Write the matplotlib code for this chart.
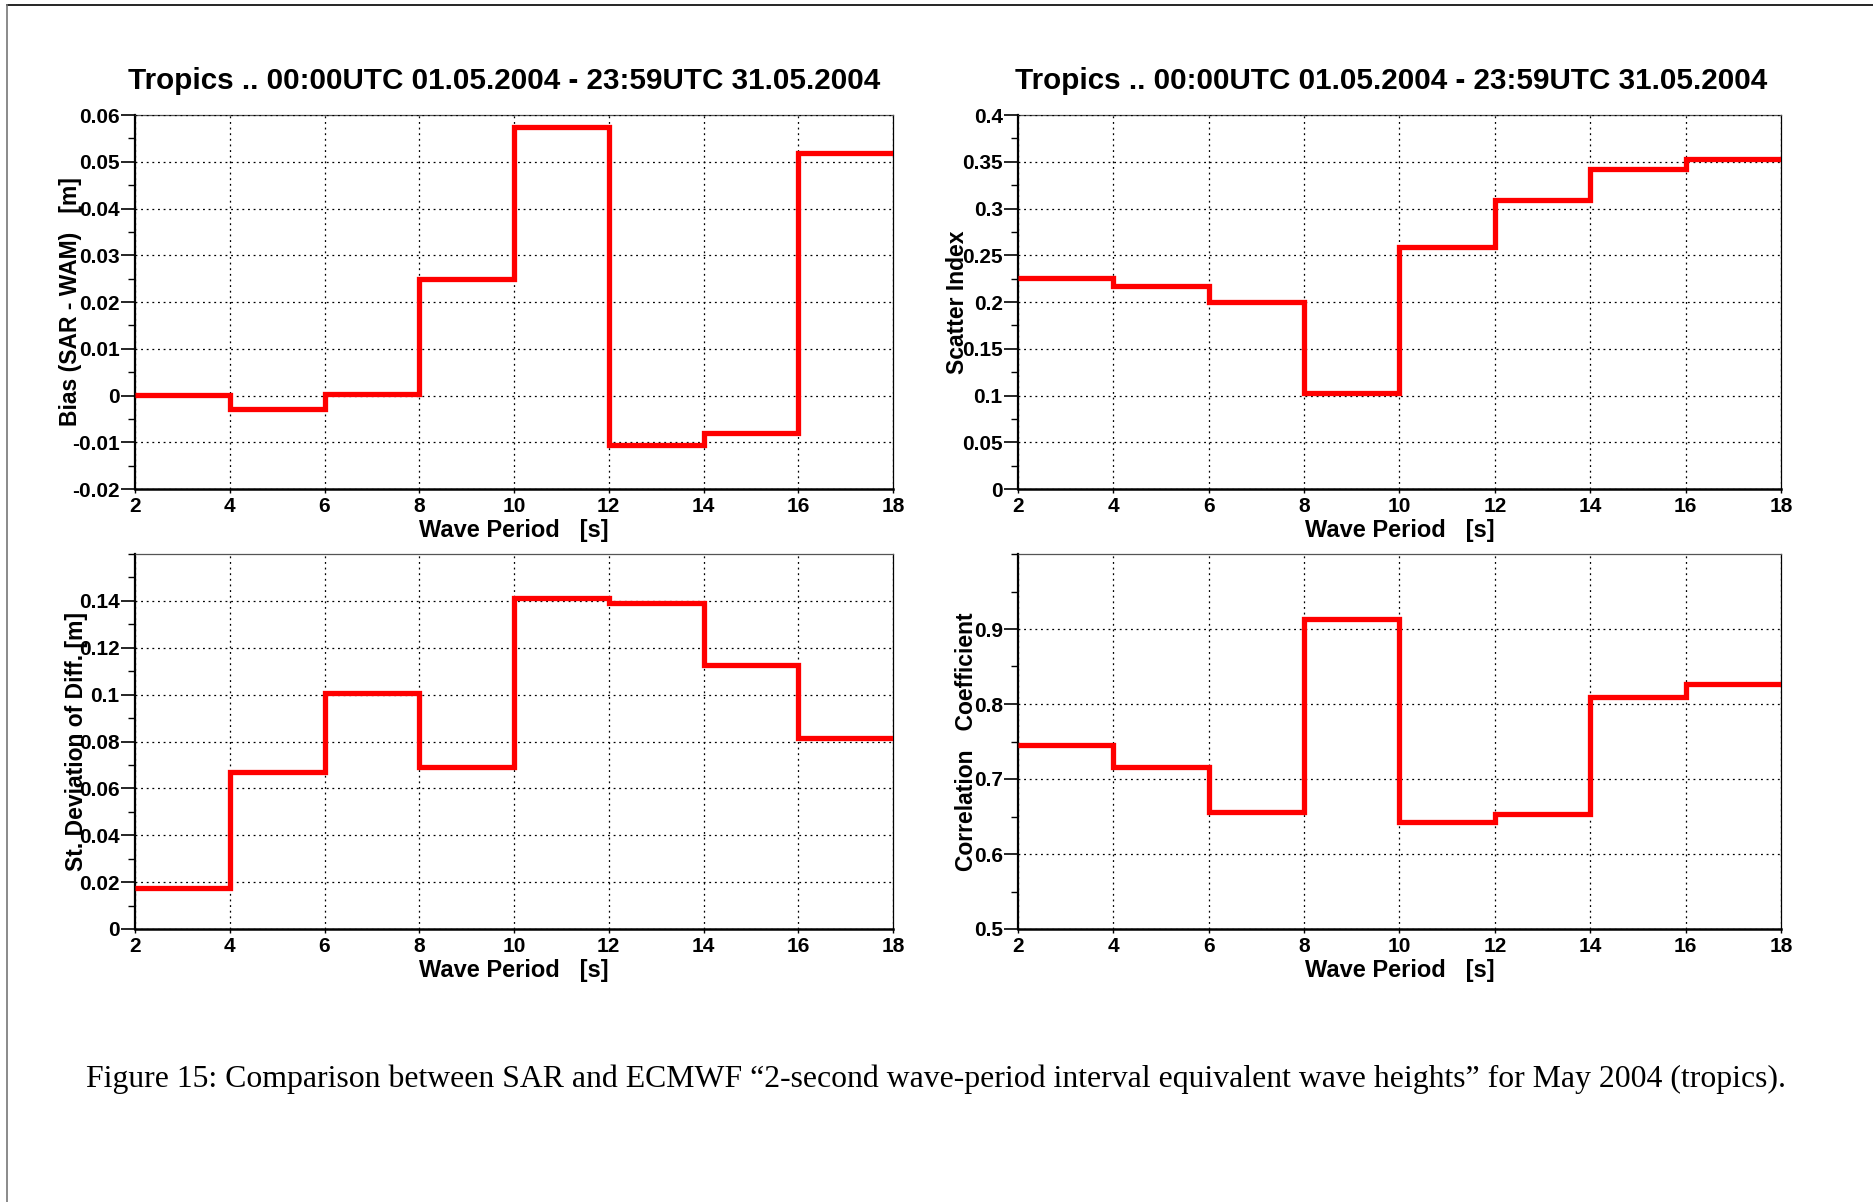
import numpy as np
import matplotlib
matplotlib.use("Agg")
import matplotlib.pyplot as plt
from matplotlib.lines import Line2D
from matplotlib.ticker import MultipleLocator

# wave period bin edges [s]
period_edges = [2, 4, 6, 8, 10, 12, 14, 16, 18]

# values per 2-second bin
bias = [0.0002, -0.0028, 0.0004, 0.0249, 0.0574, -0.0105, -0.0080, 0.0518]
scatter_index = [0.226, 0.217, 0.200, 0.103, 0.259, 0.309, 0.342, 0.353]
std_diff = [0.0177, 0.0671, 0.1008, 0.0691, 0.1414, 0.1390, 0.1127, 0.0813]
correlation = [0.746, 0.7155, 0.656, 0.9135, 0.643, 0.654, 0.809, 0.827]

title = "Tropics .. 00:00UTC 01.05.2004 - 23:59UTC 31.05.2004"
xlabel = "Wave Period   [s]"
caption = ("Figure 15: Comparison between SAR and ECMWF \u201c2-second wave-period "
           "interval equivalent wave heights\u201d for May 2004 (tropics).")

plt.rcParams['font.family'] = ['Liberation Sans', 'DejaVu Sans']
plt.rcParams['font.weight'] = 'bold'

W, H = 1873, 1202
fig = plt.figure(figsize=(W / 100, H / 100), dpi=100)


def px_axes(x0, y0, x1, y1):
    # pixel box (top-left origin) -> figure fraction
    return fig.add_axes([x0 / W, 1 - y1 / H, (x1 - x0) / W, (y1 - y0) / H])


def fmt(v, pos):
    if abs(v) < 1e-9:
        return '0'
    return ('%.3f' % v).rstrip('0').rstrip('.')


def style(ax, values, ylim, major, minor, ylabel, ylab_x, top_label=True):
    ax.stairs(values, period_edges, baseline=None, color='#ff0000', lw=3.8,
              zorder=3)
    ax.set_xlim(2, 18)
    ax.set_ylim(*ylim)
    ax.xaxis.set_major_locator(MultipleLocator(2))
    yt = np.arange(ylim[0], ylim[1] + major / 2, major)
    if not top_label:
        yt = yt[:-1]
    ax.set_yticks(yt)
    ax.yaxis.set_minor_locator(MultipleLocator(minor))
    ax.yaxis.set_major_formatter(plt.FuncFormatter(fmt))
    ax.grid(True, which='major', color='k', linestyle=(0, (1.5, 3)), lw=0.9)
    ax.set_axisbelow(False)
    ax.tick_params(axis='y', which='major', length=10, width=1.2, labelsize=15, pad=1)
    ax.tick_params(axis='y', which='minor', length=5, width=1.0)
    ax.tick_params(axis='x', which='major', length=3, width=1.0, labelsize=15, pad=3)
    for lab in ax.get_xticklabels() + ax.get_yticklabels():
        lab.set_fontweight('bold')
    ax.spines['left'].set_linewidth(1.6)
    ax.spines['bottom'].set_linewidth(1.8)
    ax.spines['right'].set_linewidth(0.9)
    ax.spines['top'].set_linewidth(0.9)
    ax.spines['top'].set_color('#555555')
    ax.set_xlabel(xlabel, fontsize=17, fontweight='bold', va='center')
    ax.xaxis.set_label_coords(0.5, -41 / 374)
    ax.set_ylabel(ylabel, fontsize=16.5, fontweight='bold', va='center')
    ax.yaxis.set_label_coords(ylab_x, 0.5)


ax1 = px_axes(135, 115, 893, 489)
style(ax1, bias, (-0.02, 0.06), 0.01, 0.005, "Bias (SAR - WAM)   [m]", -64 / 758)
ax1.set_title(title, fontsize=21.3, fontweight='bold', pad=19, x=0.487)

ax2 = px_axes(1018, 115, 1781, 489)
style(ax2, scatter_index, (0.0, 0.4), 0.05, 0.025, "Scatter Index", -60 / 763)
ax2.set_title(title, fontsize=21.3, fontweight='bold', pad=19, x=0.4895)

ax3 = px_axes(135, 554, 893, 929)
style(ax3, std_diff, (0.0, 0.16), 0.02, 0.01, "St. Deviation of Diff. [m]", -58 / 758,
      top_label=False)

ax4 = px_axes(1018, 554, 1781, 929)
style(ax4, correlation, (0.5, 1.0), 0.1, 0.05, "Correlation   Coefficient", -51 / 763,
      top_label=False)

fig.text(0.5, 1 - 1079 / H, caption, ha='center', va='center', fontsize=22.9,
         family='Liberation Serif', fontweight='normal')

# page frame remnants
fig.add_artist(Line2D([7 / W, 1], [1 - 5 / H, 1 - 5 / H], transform=fig.transFigure,
                      color='k', lw=1.2))
fig.add_artist(Line2D([7 / W, 7 / W], [0, 1 - 5 / H], transform=fig.transFigure,
                      color='#777777', lw=1.2))

fig.savefig("out.png", dpi=100)
